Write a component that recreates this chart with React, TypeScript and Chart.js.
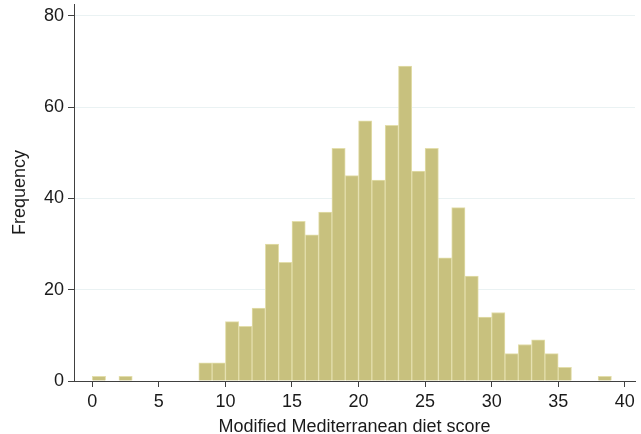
import React, { useEffect, useRef } from "react";
import Chart from "chart.js/auto";

const binStarts: number[] = [
  0, 1, 2, 3, 4, 5, 6, 7, 8, 9, 10, 11, 12, 13, 14, 15, 16, 17, 18, 19,
  20, 21, 22, 23, 24, 25, 26, 27, 28, 29, 30, 31, 32, 33, 34, 35, 36, 37, 38,
];
const frequencies: number[] = [
  1, 0, 1, 0, 0, 0, 0, 0, 4, 4, 13, 12, 16, 30, 26, 35, 32, 37, 51, 45,
  57, 44, 56, 69, 46, 51, 27, 38, 23, 14, 15, 6, 8, 9, 6, 3, 0, 0, 1,
];
const xTicks: number[] = [0, 5, 10, 15, 20, 25, 30, 35, 40];
const yTicks: number[] = [0, 20, 40, 60, 80];

const xTitle = "Modified Mediterranean diet score";
const yTitle = "Frequency";

const FONT = "'Liberation Sans', Arial, sans-serif";
const TEXT = "#1a1a1a";
const AXIS = "#404040";

export default function App() {
  const ref = useRef<HTMLCanvasElement | null>(null);

  useEffect(() => {
    if (!ref.current) return;
    const data = binStarts.map((b, i) => ({ x: b + 0.5, y: frequencies[i] }));
    const chart = new Chart(ref.current, {
      type: "bar",
      data: {
        datasets: [
          {
            data,
            backgroundColor: "#C8C17E",
            borderColor: "#E3DEAB",
            borderWidth: 1,
            barPercentage: 1,
            categoryPercentage: 1,
          },
        ],
      },
      options: {
        animation: false,
        responsive: false,
        layout: { padding: { top: 4, right: 6, left: 0, bottom: 0 } },
        plugins: {
          legend: { display: false },
          tooltip: { enabled: false },
          title: { display: false },
        },
        scales: {
          x: {
            type: "linear",
            offset: false,
            min: -1.375,
            max: 40.77,
            afterBuildTicks: (s: any) => {
              s.ticks = xTicks.map((v) => ({ value: v }));
            },
            afterFit: (s: any) => {
              s.height = 53;
              s.paddingLeft = 0;
              s.paddingRight = 0;
            },
            grid: {
              offset: false,
              drawOnChartArea: false,
              drawTicks: true,
              tickLength: 6,
              tickColor: AXIS,
            },
            border: { display: true, color: AXIS, width: 1 },
            ticks: {
              padding: 4,
              maxRotation: 0,
              autoSkip: false,
              color: TEXT,
              font: { family: FONT, size: 18 },
            },
            title: {
              display: true,
              text: xTitle,
              color: TEXT,
              font: { family: FONT, size: 18, lineHeight: 0.8 },
              padding: 0,
            },
          },
          y: {
            type: "linear",
            min: 0,
            max: 82.6,
            afterBuildTicks: (s: any) => {
              s.ticks = yTicks.map((v) => ({ value: v }));
            },
            afterFit: (s: any) => {
              s.width = 74;
              s.paddingTop = 0;
              s.paddingBottom = 0;
            },
            grid: {
              drawOnChartArea: true,
              color: "#EAF2F3",
              drawTicks: true,
              tickLength: 6,
              tickColor: AXIS,
            },
            border: { display: true, color: AXIS, width: 1 },
            ticks: {
              padding: 4,
              autoSkip: false,
              color: TEXT,
              font: { family: FONT, size: 18 },
            },
            title: {
              display: true,
              text: yTitle,
              color: TEXT,
              font: { family: FONT, size: 18, lineHeight: 1 },
              padding: { top: 11, bottom: 0 },
            },
          },
        },
      },
    });
    return () => chart.destroy();
  }, []);

  return (
    <div style={{ position: "absolute", left: 0, top: 0, width: 641, height: 434, background: "#fff" }}>
      <canvas ref={ref} width={641} height={434} style={{ width: 641, height: 434, display: "block" }} />
    </div>
  );
}
